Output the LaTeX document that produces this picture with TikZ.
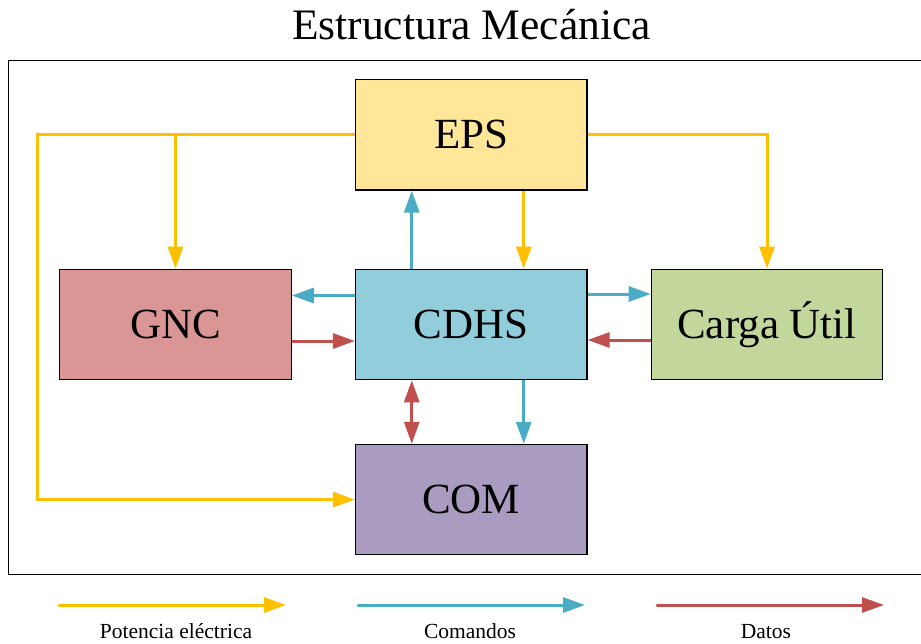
\documentclass[tikz,border=0pt]{standalone}
\usepackage{fontspec}
\setmainfont{Liberation Serif}
\usetikzlibrary{arrows.meta,calc}

\definecolor{epsfill}{HTML}{FFE699}
\definecolor{gncfill}{HTML}{D99694}
\definecolor{cdhsfill}{HTML}{92CDDC}
\definecolor{cargafill}{HTML}{C3D69B}
\definecolor{comfill}{HTML}{AA9BC0}
\definecolor{powerc}{HTML}{FFC000}
\definecolor{cmdc}{HTML}{4BACC6}
\definecolor{datac}{HTML}{C0504D}

\begin{document}
\begin{tikzpicture}[x=1pt,y=-1pt,
  block/.style={draw=black, line width=1.2pt, minimum width=231.5pt,
    minimum height=110.5pt, inner sep=0pt,
    font=\fontsize{43}{43}\selectfont, text height=28.2pt, text depth=0pt},
  flow/.style={line width=3pt, -{Triangle[length=22pt,width=15pt]}},
  power/.style={flow, draw=powerc, color=powerc},
  cmd/.style={flow, draw=cmdc, color=cmdc},
  data/.style={flow, draw=datac, color=datac},
  legendtext/.style={anchor=base, font=\fontsize{21.5}{21.5}\selectfont}
]
\useasboundingbox (0,0) rectangle (921,643);

% title and enclosing structure
\node[anchor=base, font=\fontsize{43.5}{43.5}\selectfont] (title) at (471.5,39.5) {Estructura Mecánica};
\draw[line width=1pt] (8.3,60) rectangle (923,574.5);

% subsystems
\node[block, fill=epsfill]   (EPS)   at (471.25,134.75) {EPS};
\node[block, fill=gncfill]   (GNC)   at (175.5,324.5)   {GNC};
\node[block, fill=cdhsfill]  (CDHS)  at (471.25,324.5)  {CDHS};
\node[block, fill=cargafill] (Carga) at (767,324.5)     {Carga Útil};
\node[block, fill=comfill]   (COM)   at (471.25,499.6)  {COM};

% electrical power distribution
\coordinate (leftbus) at (37,135);
\draw[power] (EPS.west) -| (leftbus |- COM.west) -- (COM.west);
\draw[power] (EPS.west -| GNC.north) -- (GNC.north);
\draw[power] (EPS.east) -| (Carga.north);
\draw[power] ($(EPS.south)+(52.5,0)$) -- ($(CDHS.north)+(52.5,0)$);

% commands issued by CDHS
\draw[cmd] ($(CDHS.north)+(-59.5,0)$) -- ($(EPS.south)+(-59.5,0)$);
\draw[cmd] ($(CDHS.west)+(0,-29)$) -- ($(GNC.east)+(0,-29)$);
\draw[cmd] ($(CDHS.east)+(0,-30.5)$) -- ($(Carga.west)+(0,-30.5)$);
\draw[cmd] ($(CDHS.south)+(52.5,0)$) -- ($(COM.north)+(52.5,0)$);

% data links
\draw[data] ($(GNC.east)+(0,16.5)$) -- ($(CDHS.west)+(0,16.5)$);
\draw[data] ($(Carga.west)+(0,15.5)$) -- ($(CDHS.east)+(0,15.5)$);
\draw[data, {Triangle[length=22pt,width=15pt]}-{Triangle[length=22pt,width=15pt]}]
  ($(CDHS.south)+(-59.5,0)$) -- ($(COM.north)+(-59.5,0)$);

% legend
\coordinate (pA) at (59,605);  \coordinate (pB) at (286,605);
\coordinate (cA) at (358,605); \coordinate (cB) at (585,605);
\coordinate (dA) at (657,605); \coordinate (dB) at (884,605);
\draw[power, line cap=round] (pA) -- (pB);
\draw[cmd, line cap=round] (cA) -- (cB);
\draw[data, line cap=round] (dA) -- (dB);
\node[legendtext] (lp) at (176,638) {Potencia eléctrica};
\node[legendtext] (lc) at (470,638) {Comandos};
\node[legendtext] (ld) at (766,638) {Datos};
\end{tikzpicture}
\end{document}
